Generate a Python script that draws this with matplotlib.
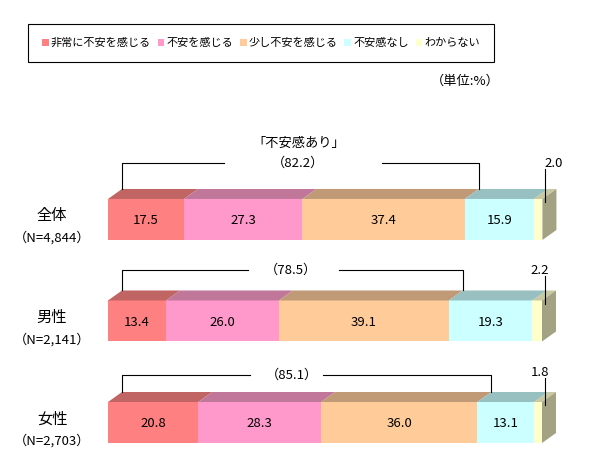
""" 不安感 - 3D風 積み上げ横棒グラフ """

import matplotlib
matplotlib.use('Agg')
import matplotlib.pyplot as plt
from matplotlib.patches import Polygon, Patch

plt.rcParams['font.family'] = ['Noto Sans CJK JP', 'DejaVu Sans']

# DATA
categories = ['全体', '男性', '女性']
sample_sizes = ['（N=4,844）', '（N=2,141）', '（N=2,703）']
series_names = ['非常に不安を感じる', '不安を感じる', '少し不安を感じる', '不安感なし', 'わからない']
very_anxious = [17.5, 13.4, 20.8]
anxious = [27.3, 26.0, 28.3]
slightly_anxious = [37.4, 39.1, 36.0]
not_anxious = [15.9, 19.3, 13.1]
unknown = [2.0, 2.2, 1.8]
bracket_title = '「不安感あり」'
unit_label = '（単位:%）'

series = [very_anxious, anxious, slightly_anxious, not_anxious, unknown]

# colours (front face, top face)
front_colors = ['#FF8080', '#FF99CC', '#FFCC99', '#CCFFFF', '#FFFFCC']
top_colors = ['#C06464', '#C07799', '#C09A77', '#99C0C0', '#C8C8A2']
side_color = '#A3A384'

# layout (pixel based, 598x476 canvas)
W, H = 598, 476
fig = plt.figure(figsize=(W / 100, H / 100), dpi=100)
ax = fig.add_axes([108 / W, 0, 434 / W, 376 / H])
ax.set_xlim(0, 100)
ax.set_ylim(2.527, -1.177)
ax.axis('off')

bar_h = 0.404
px_x = 434 / 100      # pixels per percent
px_y = 101.5          # pixels per category step
dx = 14 / px_x        # depth to the right
dy = 10 / px_y        # depth upwards

bracket_y = [-0.557, -0.50, -0.47]
bracket_gap = [(26.7, 63.1), (32.3, 53.2), (32.7, 49.5)]
bracket_text_x = [43.9, 42.2, 42.4]
small_label_x = [102.8, 99.5, 99.5]
small_label_y = [-0.547, -0.502, -0.497]
small_line_top = [-0.50, -0.44, -0.44]

for i in range(len(categories)):
    top = i - bar_h / 2
    left = 0.0
    for j, vals in enumerate(series):
        v = vals[i]
        ax.barh(i, v, left=left, height=bar_h, color=front_colors[j], linewidth=0)
        ax.add_patch(Polygon([(left, top), (left + v, top), (left + v + dx, top - dy),
                              (left + dx, top - dy)], closed=True,
                             facecolor=top_colors[j], edgecolor='none', clip_on=False))
        if j < 4:
            ax.text(left + v / 2, i + 0.01, f'{v:.1f}', ha='center', va='center',
                    fontsize=9.5)
        left += v
    # right side face
    ax.add_patch(Polygon([(left, i + bar_h / 2), (left, top), (left + dx, top - dy),
                          (left + dx, i + bar_h / 2 - dy)], closed=True,
                         facecolor=side_color, edgecolor='none', clip_on=False))

    # small value for わからない
    ax.text(small_label_x[i], i + small_label_y[i], f'{unknown[i]:.1f}',
            ha='center', va='center', fontsize=9.5, clip_on=False)
    ax.plot([left + 0.6, left + 0.6], [i + small_line_top[i], top + 0.03],
            color='black', lw=0.8, clip_on=False)

    # bracket for 不安感あり
    total = round(very_anxious[i] + anxious[i] + slightly_anxious[i], 1)
    by = i + bracket_y[i]
    x_l, x_r = dx, total + dx
    g0, g1 = bracket_gap[i]
    ax.plot([x_l, x_l, g0], [top - dy, by, by], color='black', lw=0.8, clip_on=False)
    ax.plot([g1, x_r, x_r], [by, by, top - dy], color='black', lw=0.8, clip_on=False)
    ax.text(bracket_text_x[i], by, f'（{total:.1f}）', ha='center', va='center',
            fontsize=9.5, clip_on=False)
    if i == 0:
        ax.text(bracket_text_x[i], by - 0.19, bracket_title, ha='center', va='center',
                fontsize=9.5, clip_on=False)

    # category labels
    ax.text(-12.9, i - 0.035, categories[i], ha='center', va='center', fontsize=11,
            clip_on=False)
    ax.text(-12.9, i + 0.185, sample_sizes[i], ha='center', va='center', fontsize=9.5,
            clip_on=False)

# legend
handles = [Patch(facecolor=c, edgecolor='none') for c in front_colors]
leg = fig.legend(handles, series_names, loc='center', ncol=5,
                 bbox_to_anchor=(261 / W, 1 - 43 / H),
                 fontsize=8, frameon=True, fancybox=False,
                 edgecolor='black', framealpha=1, borderpad=1.25,
                 handlelength=0.6, handleheight=0.6, handletextpad=0.2,
                 columnspacing=0.6, borderaxespad=0)
leg.get_frame().set_linewidth(0.8)

fig.text(500 / W, 1 - 81 / H, unit_label, ha='right', va='center', fontsize=9.5)

fig.savefig('out.png', dpi=100, facecolor='white')
